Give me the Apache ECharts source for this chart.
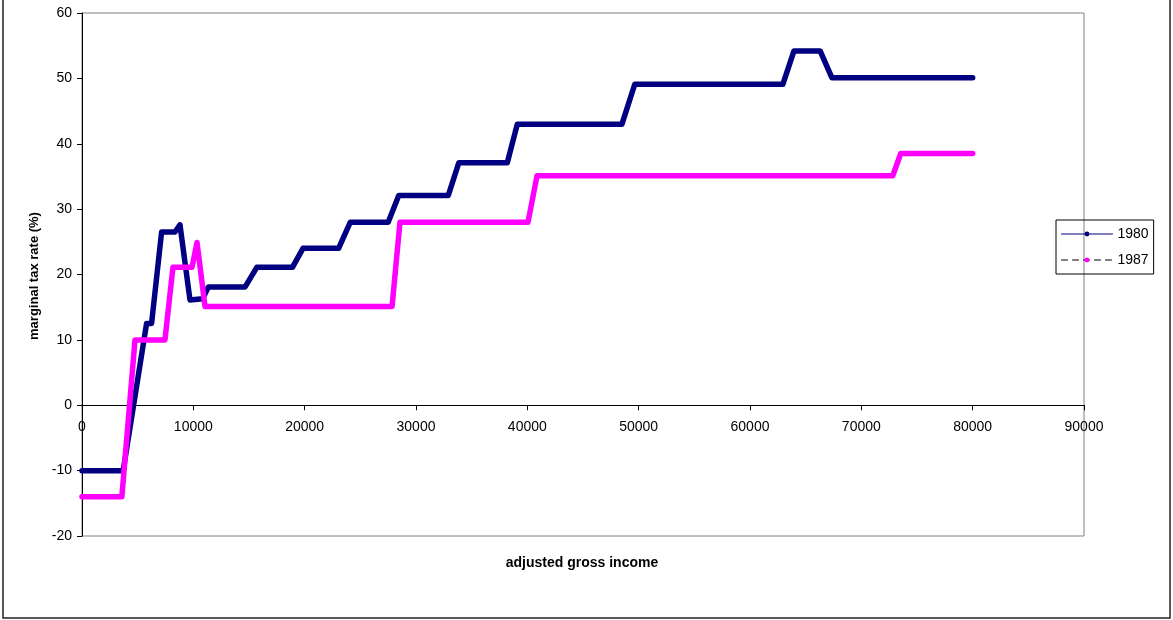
<!DOCTYPE html>
<html>
<head>
<meta charset="utf-8">
<script src="https://cdn.jsdelivr.net/npm/echarts@6/dist/echarts.min.js"></script>
<style>
html,body{margin:0;padding:0;background:#fff;}
#chart{width:1173px;height:620px;}
</style>
</head>
<body>
<div id="chart"></div>
<script>
// ---- data ----
const seriesNames = ['1980', '1987'];
const income1980 = [0, 3700, 5800, 6250, 7150, 8350, 8800, 9700, 10850, 11350, 14650, 15700, 18900, 19850, 23050, 24100, 27500, 28450, 32900, 33850, 38200, 39100, 48500, 49650, 62950, 63950, 66300, 67350, 80000];
const rate1980   = [-10, -10, 12.5, 12.5, 26.5, 26.5, 27.6, 16.1, 16.3, 18.1, 18.1, 21.1, 21.1, 24, 24, 28, 28, 32.1, 32.1, 37.1, 37.1, 43, 43, 49.1, 49.1, 54.2, 54.2, 50.1, 50.1];
const income1987 = [0, 3580, 4760, 7450, 8170, 9880, 10330, 11050, 27850, 28560, 40060, 40870, 72820, 73540, 80000];
const rate1987   = [-14, -14, 10, 10, 21.1, 21.1, 24.9, 15.1, 15.1, 28, 28, 35.1, 35.1, 38.5, 38.5];
const xTitle = 'adjusted gross income';
const yTitle = 'marginal tax rate (%)';

const pairs = (xs, ys) => xs.map((x, i) => [x, ys[i]]);

const chart = echarts.init(document.getElementById('chart'), null, {renderer: 'canvas'});
const font = 'Liberation Sans, Arial, sans-serif';

chart.setOption({
  animation: false,
  backgroundColor: '#fff',
  grid: {
    left: 82, right: 89, top: 13, bottom: 84,
    show: true, borderColor: '#808080', borderWidth: 1, backgroundColor: 'transparent'
  },
  xAxis: {
    type: 'value', min: 0, max: 90000, interval: 10000,
    axisLine: {show: true, onZero: true, lineStyle: {color: '#000', width: 1}},
    axisTick: {show: true, inside: false, length: 5, lineStyle: {color: '#000'}},
    axisLabel: {color: '#000', fontSize: 14, fontFamily: font, margin: -116, formatter: v => String(v)},
    splitLine: {show: false}
  },
  yAxis: {
    type: 'value', min: -20, max: 60, interval: 10,
    axisLine: {show: true, onZero: false, lineStyle: {color: '#000', width: 1}},
    axisTick: {show: true, inside: false, length: 5, lineStyle: {color: '#000'}},
    axisLabel: {color: '#000', fontSize: 14, fontFamily: font, margin: 10},
    splitLine: {show: false}
  },
  legend: {
    orient: 'vertical',
    left: 1056, top: 220,
    padding: [7, 5, 7, 5],
    itemWidth: 51, itemHeight: 6, itemGap: 12,
    borderColor: '#000', borderWidth: 1,
    textStyle: {color: '#000', fontSize: 14, fontFamily: font},
    data: [
      {name: seriesNames[0], lineStyle: {width: 1, color: '#000080', type: 'solid'}, itemStyle: {color: '#000080'}},
      {name: seriesNames[1], lineStyle: {width: 1, color: '#000', type: [6, 5], opacity: 1}, itemStyle: {color: '#ff00ff'}}
    ]
  },
  series: [
    {
      name: seriesNames[0], type: 'line', data: pairs(income1980, rate1980),
      symbol: 'circle', showSymbol: false,
      lineStyle: {color: '#000080', width: 5.5, cap: 'round', join: 'round'},
      itemStyle: {color: '#000080'}, z: 3
    },
    {
      name: seriesNames[1], type: 'line', data: pairs(income1987, rate1987),
      symbol: 'circle', showSymbol: false,
      lineStyle: {color: '#ff00ff', width: 5.5, cap: 'round', join: 'round'},
      itemStyle: {color: '#ff00ff'}, z: 4
    }
  ],
  graphic: [
    {type: 'rect', silent: true, z: -10, shape: {x: 3, y: -2, width: 1167, height: 620},
     style: {fill: 'none', stroke: '#222', lineWidth: 1.5}},
    {type: 'text', silent: true, x: 582, y: 563,
     style: {text: xTitle, fill: '#000', font: 'bold 14px ' + font, textAlign: 'center', textVerticalAlign: 'middle'}},
    {type: 'text', silent: true, x: 34, y: 276, rotation: Math.PI / 2,
     style: {text: yTitle, fill: '#000', font: 'bold 13px ' + font, textAlign: 'center', textVerticalAlign: 'middle'}}
  ]
});
</script>
</body>
</html>
